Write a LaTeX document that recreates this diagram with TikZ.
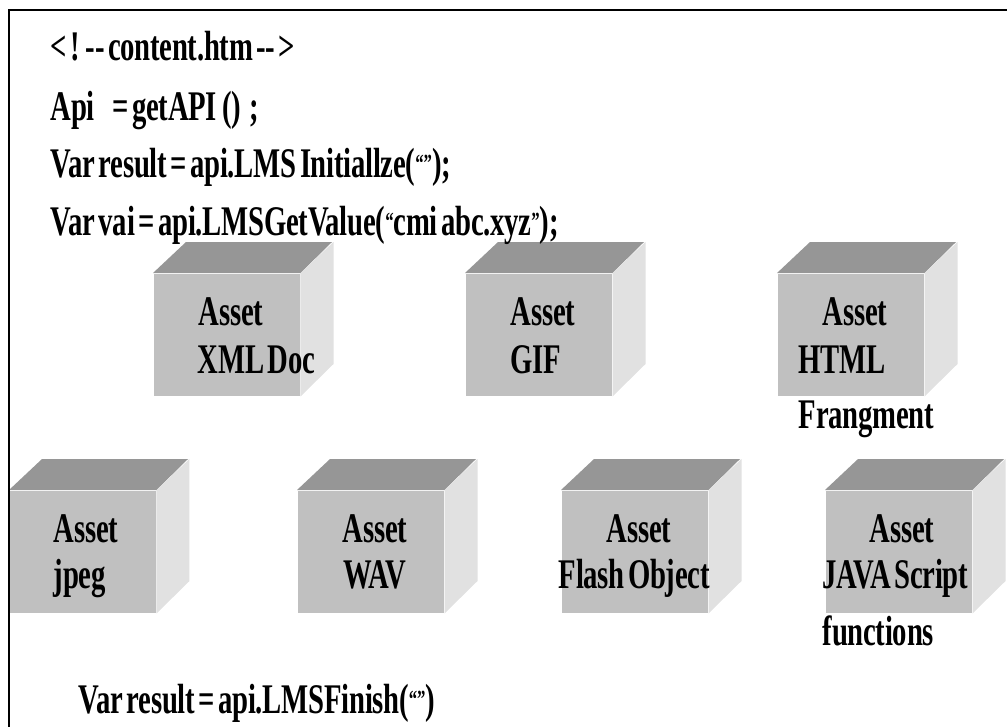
\documentclass[tikz,border=0pt]{standalone}
\usepackage{fontspec}
\setmainfont{Liberation Serif}[FakeStretch=0.68, WordSpace=0.5, LetterSpace=-0.6]
\usepackage{tikz}
\usetikzlibrary{positioning,calc}
\definecolor{ink}{HTML}{000000}
\definecolor{facefront}{HTML}{C0C0C0}
\definecolor{facetop}{HTML}{969696}
\definecolor{faceside}{HTML}{E1E1E1}
\newcommand{\smallq}[1]{{\fontsize{7}{8}\selectfont\raisebox{1.5pt}{#1}}}
\tikzset{
  assetfront/.style={rectangle, fill=facefront, inner sep=0pt, minimum width=1.46cm, minimum height=1.22cm, anchor=north west},
  codeline/.style={anchor=base west, inner sep=0pt, font=\bfseries\fontsize{12}{14}\selectfont},
  assetlabel/.style={codeline},
  frameline/.style={draw=ink, line width=0.7pt}
}

\begin{document}
\begin{tikzpicture}[x=0.01cm, y=-0.01cm]
  \useasboundingbox (0,0) rectangle (1007,727);

  % front faces of the asset boxes
  \node[assetfront] (xml) at (153,273) {};
  \node[assetfront] (gif) at (465,273) {};
  \node[assetfront] (html) at (777,273) {};
  \node[assetfront] (jpeg) at (9,490) {};
  \node[assetfront] (wav) at (297,490) {};
  \node[assetfront] (flash) at (561,490) {};
  \node[assetfront] (java) at (825,490) {};

  % top and side faces
  \foreach \cube in {xml,gif,html,jpeg,wav,flash,java} {
    \fill[facetop] (\cube.north west) -- ++(33,-31) -- ++(146,0) -- (\cube.north east) -- cycle;
    \fill[faceside] (\cube.north east) -- ++(33,-31) -- ++(0,122) -- (\cube.south east) -- cycle;
  }

  % script lines
  \node[codeline] (l1) at (50,60) {< ! -{}- content.htm -{}- >};
  \node[codeline] (l2) at (50,120) {Api\hspace{5pt}= getAPI\hspace{1.5pt}()\hspace{2.5pt};};
  \node[codeline] (l3) at (50,177) {Var result = api.LMS Initiallze(\smallq{“”});};
  \node[codeline] (l4) at (50,235) {Var vai = api.LMSGetValue(\smallq{“}cmi abc.xyz\smallq{”});};
  \node[codeline] (finish) at (78,713) {Var result = api.LMSFinish(\smallq{“”})};

  % labels of the assets
  \node[assetlabel] (xmlA) at (198,325) {Asset};
  \node[assetlabel] (xmlB) at (197,373) {XML Doc};
  \node[assetlabel] (gifA) at (510,325) {Asset};
  \node[assetlabel] (gifB) at (510,373) {GIF};
  \node[assetlabel] (htmlA) at (822,325) {Asset};
  \node[assetlabel] (htmlB) at (798,373) {HTML};
  \node[assetlabel] (htmlC) at (798,428) {Frangment};
  \node[assetlabel] (jpegA) at (53,542) {Asset};
  \node[assetlabel] (jpegB) at (53,588) {jpeg};
  \node[assetlabel] (wavA) at (342,542) {Asset};
  \node[assetlabel] (wavB) at (343,588) {WAV};
  \node[assetlabel] (flashA) at (606,542) {Asset};
  \node[assetlabel] (flashB) at (558,588) {Flash Object};
  \node[assetlabel] (javaA) at (869,542) {Asset};
  \node[assetlabel] (javaB) at (822,588) {JAVA Script};
  \node[assetlabel] (javaC) at (822,645) {functions};

  % page frame
  \draw[frameline] (1007,10) -- (9,10) -- (9,727);
\end{tikzpicture}
\end{document}
